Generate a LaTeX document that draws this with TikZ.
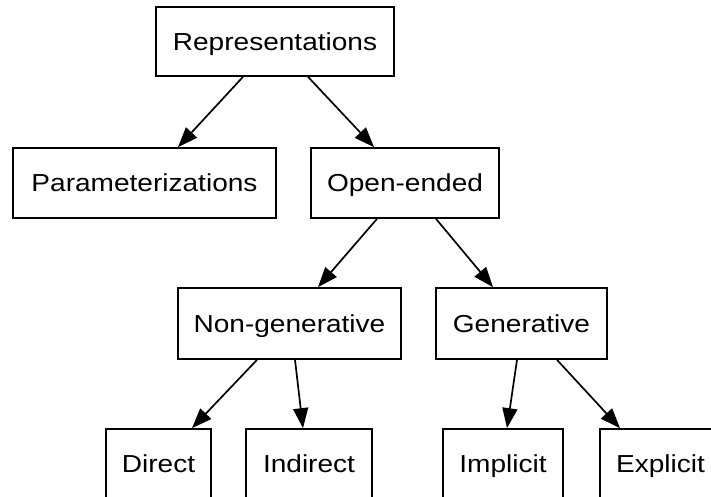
\documentclass[tikz,border=0pt]{standalone}
\usepackage{fontspec}
\setmainfont{Liberation Sans}[FakeStretch=1.14]
\usetikzlibrary{arrows.meta}
\begin{document}
\begin{tikzpicture}[x=1pt,y=1pt,
  box/.style={draw=black, line width=1.7pt, rectangle, inner sep=0pt,
    minimum height=70pt, text height=17.6pt, text depth=0pt,
    font=\fontsize{24.6}{28}\selectfont},
  arr/.style={line width=1.7pt, -{Triangle[length=20pt,width=15pt]}}]
\useasboundingbox (0,0) rectangle (711,496);
% tree nodes
\node[box, minimum width=238pt, minimum height=69pt] (rep) at (275,454.5) {Representations};
\node[box, minimum width=263pt] (param) at (144.5,313) {Parameterizations};
\node[box, minimum width=188pt] (open) at (405,313) {Open-ended};
\node[box, minimum width=223pt, minimum height=71pt] (nongen) at (289.5,172.5) {Non-generative};
\node[box, minimum width=171pt, minimum height=71pt] (gen) at (521.5,172.5) {Generative};
\node[box, minimum width=105pt] (direct) at (158.5,32) {Direct};
\node[box, minimum width=126pt] (indirect) at (309,32) {Indirect};
\node[box, minimum width=120pt] (implicit) at (503,32) {Implicit};
\node[box, minimum width=121pt] (explicit) at (660.5,32) {Explicit};
% edges
\draw[arr] ([xshift=-32pt]rep.south) -- ([xshift=33.5pt]param.north);
\draw[arr] ([xshift=33pt]rep.south) -- ([xshift=-31pt]open.north);
\draw[arr] ([xshift=-28pt]open.south) -- ([xshift=28.5pt]nongen.north);
\draw[arr] ([xshift=31pt]open.south) -- ([xshift=-28.5pt]gen.north);
\draw[arr] ([xshift=-32.5pt]nongen.south) -- ([xshift=33.5pt]direct.north);
\draw[arr] ([xshift=5.5pt]nongen.south) -- ([xshift=-6pt]indirect.north);
\draw[arr] ([xshift=-4.5pt]gen.south) -- ([xshift=4pt]implicit.north);
\draw[arr] ([xshift=35.5pt]gen.south) -- ([xshift=-40.5pt]explicit.north);
\end{tikzpicture}
\end{document}
